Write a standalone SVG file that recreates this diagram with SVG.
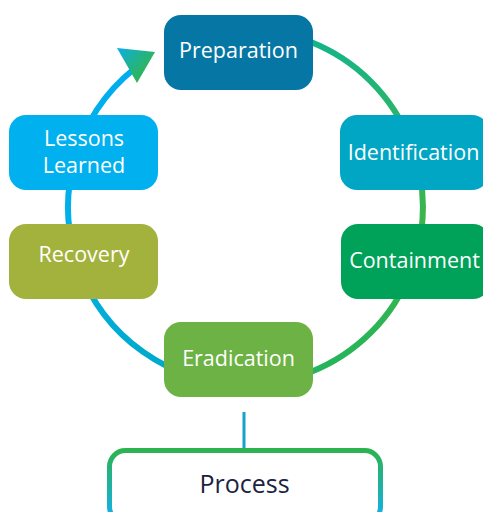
<svg xmlns="http://www.w3.org/2000/svg" width="483" height="512" viewBox="0 0 483 512">
<style>
.lbl{font-family:"Open Sans","Noto Sans",sans-serif;font-size:21.5px;fill:#ffffff;text-anchor:middle}
.proc{font-family:"Open Sans","Noto Sans",sans-serif;font-size:25px;fill:#1c2340;text-anchor:middle}
</style>
<defs>
<linearGradient id="gR" gradientUnits="userSpaceOnUse" x1="0" y1="29" x2="0" y2="385">
<stop offset="0" stop-color="#10b48f"/>
<stop offset="0.35" stop-color="#35b559"/>
<stop offset="0.6" stop-color="#3cb54a"/>
<stop offset="1" stop-color="#22b45e"/>
</linearGradient>
<linearGradient id="gL" gradientUnits="userSpaceOnUse" x1="0" y1="70" x2="0" y2="385">
<stop offset="0" stop-color="#00aeef"/>
<stop offset="0.6" stop-color="#00b0e8"/>
<stop offset="1" stop-color="#00a8c4"/>
</linearGradient>
<linearGradient id="gA" gradientUnits="userSpaceOnUse" x1="120" y1="48" x2="150" y2="75">
<stop offset="0" stop-color="#0eaee0"/>
<stop offset="0.5" stop-color="#20b38a"/>
<stop offset="1" stop-color="#33b44c"/>
</linearGradient>
<linearGradient id="gP" gradientUnits="userSpaceOnUse" x1="0" y1="448" x2="0" y2="512">
<stop offset="0" stop-color="#2cb34c"/>
<stop offset="1" stop-color="#17b0dc"/>
</linearGradient>
</defs>
<g id="connectors" fill="none">
<path d="M245.5 29.5 A177.5 177.5 0 0 1 245.5 384.5" stroke="url(#gR)" stroke-width="6"/>
<path d="M245.5 384.5 A177.5 177.5 0 0 1 134 69" stroke="url(#gL)" stroke-width="6"/>
<polygon points="117,48 155,52 137,83" fill="url(#gA)"/>
<line x1="244" y1="412" x2="244" y2="449" stroke="#14a3c9" stroke-width="3"/>
</g>
<g id="preparation">
<rect x="164" y="15" width="149" height="75" rx="17" fill="#0677a5"/>
<text class="lbl" x="238.5" y="58">Preparation</text>
</g>
<g id="identification">
<rect x="340" y="115" width="149" height="75" rx="17" fill="#00a6c3"/>
<text class="lbl" x="413.5" y="160">Identification</text>
</g>
<g id="containment">
<rect x="341" y="224" width="149" height="75" rx="17" fill="#00a259"/>
<text class="lbl" x="414.5" y="268">Containment</text>
</g>
<g id="eradication">
<rect x="164" y="322" width="149" height="75" rx="17" fill="#6cb245"/>
<text class="lbl" x="238.5" y="366">Eradication</text>
</g>
<g id="recovery">
<rect x="9" y="224" width="149" height="75" rx="17" fill="#a3b23d"/>
<text class="lbl" x="84" y="262">Recovery</text>
</g>
<g id="lessons-learned">
<rect x="9" y="115" width="149" height="75" rx="17" fill="#00b0ef"/>
<text class="lbl" x="84" y="146">Lessons</text>
<text class="lbl" x="84" y="173">Learned</text>
</g>
<g id="process">
<rect x="109.5" y="450.5" width="271" height="72" rx="16" fill="#ffffff" stroke="url(#gP)" stroke-width="5"/>
<text class="proc" x="244.5" y="493">Process</text>
</g>
</svg>
